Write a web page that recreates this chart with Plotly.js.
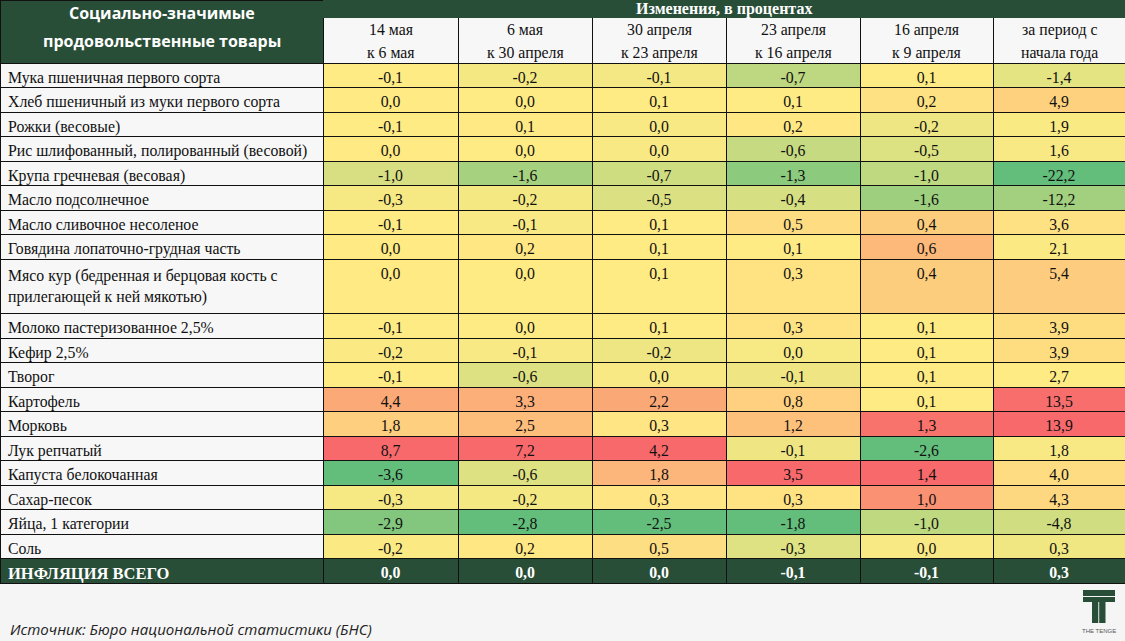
<!DOCTYPE html>
<html><head><meta charset="utf-8">
<script src="https://cdn.plot.ly/plotly-3.0.1.min.js"></script>
<style>html,body{margin:0;padding:0;background:#f5f5f5;}</style>
</head><body>
<div id="chart" style="width:1125px;height:641px;"></div>
<script>
const items = ["Мука пшеничная первого сорта", "Хлеб пшеничный из муки первого сорта", "Рожки (весовые)", "Рис шлифованный, полированный (весовой)", "Крупа гречневая (весовая)", "Масло подсолнечное", "Масло сливочное несоленое", "Говядина лопаточно-грудная часть", "Мясо кур (бедренная и берцовая кость с<br>прилегающей к ней мякотью)", "Молоко пастеризованное 2,5%", "Кефир 2,5%", "Творог", "Картофель", "Морковь", "Лук репчатый", "Капуста белокочанная", "Сахар-песок", "Яйца, 1 категории", "Соль"];
const totalLabel = "ИНФЛЯЦИЯ ВСЕГО";
const groupTitle = ["Социально-значимые", "продовольственные товары"];
const changesTitle = "Изменения, в процентах";
const periods = [["14 мая", "к 6 мая"], ["6 мая", "к 30 апреля"], ["30 апреля", "к 23 апреля"], ["23 апреля", "к 16 апреля"], ["16 апреля", "к 9 апреля"], ["за период с", "начала года"]];
const may14 = [-0.1, 0.0, -0.1, 0.0, -1.0, -0.3, -0.1, 0.0, 0.0, -0.1, -0.2, -0.1, 4.4, 1.8, 8.7, -3.6, -0.3, -2.9, -0.2];
const may6 = [-0.2, 0.0, 0.1, 0.0, -1.6, -0.2, -0.1, 0.2, 0.0, 0.0, -0.1, -0.6, 3.3, 2.5, 7.2, -0.6, -0.2, -2.8, 0.2];
const apr30 = [-0.1, 0.1, 0.0, 0.0, -0.7, -0.5, 0.1, 0.1, 0.1, 0.1, -0.2, 0.0, 2.2, 0.3, 4.2, 1.8, 0.3, -2.5, 0.5];
const apr23 = [-0.7, 0.1, 0.2, -0.6, -1.3, -0.4, 0.5, 0.1, 0.3, 0.3, 0.0, -0.1, 0.8, 1.2, -0.1, 3.5, 0.3, -1.8, -0.3];
const apr16 = [0.1, 0.2, -0.2, -0.5, -1.0, -1.6, 0.4, 0.6, 0.4, 0.1, 0.1, 0.1, 0.1, 1.3, -2.6, 1.4, 1.0, -1.0, 0.0];
const ytd = [-1.4, 4.9, 1.9, 1.6, -22.2, -12.2, 3.6, 2.1, 5.4, 3.9, 3.9, 2.7, 13.5, 13.9, 1.8, 4.0, 4.3, -4.8, 0.3];
const totals = [0.0, 0.0, 0.0, -0.1, -0.1, 0.3];
const series = [may14, may6, apr30, apr23, apr16, ytd];
const source = "Источник: Бюро национальной статистики (БНС)";

const GREEN = [99,190,123], YELLOW = [255,235,132], RED = [248,105,107];
const DARK = '#284e37', LIGHT = '#f7f7f7';
function mix(a,b,t){return 'rgb('+a.map((v,i)=>Math.round(v+(b[i]-v)*t)).join(',')+')';}
function median(arr){const s=[...arr].sort((a,b)=>a-b);const n=s.length;const p=(n-1)*0.5;const lo=Math.floor(p);return s[lo]+(s[Math.ceil(p)]-s[lo])*(p-lo);}
function colorsFor(arr){
  const mn=Math.min(...arr), mx=Math.max(...arr), md=median(arr);
  return arr.map(v=> v<=md ? mix(GREEN,YELLOW,(md===mn?1:(v-mn)/(md-mn))) : mix(YELLOW,RED,(v-md)/(mx-md)));
}
const fmt = v => v.toFixed(1).replace('.',',').replace('-0,0','0,0');

const BODY = 15.8, TOT = 16.5;
const colValues = [items.concat([totalLabel])];
const colFills = [items.map(()=>LIGHT).concat([DARK])];
const colFontColors = [items.map(()=>'#111').concat(['#ffffff'])];
const colWeights = [items.map(()=>'normal').concat(['bold'])];
const colSizes = [items.map(()=>BODY).concat([TOT])];
series.forEach((s,i)=>{
  colValues.push(s.map(fmt).concat([fmt(totals[i])]));
  colFills.push(colorsFor(s).concat([DARK]));
  colFontColors.push(s.map(()=>'#111').concat(['#ffffff']));
  colWeights.push(s.map(()=>'normal').concat(['bold']));
  colSizes.push(s.map(()=>BODY).concat([BODY]));
});

const H = 641, W = 1125;
const colW = [323,135,134,134,134,133,132];
const sumW = colW.reduce((a,b)=>a+b,0);
const edges = [0]; colW.forEach(w=>edges.push(edges[edges.length-1]+w/sumW));
const leftFrac = edges[1];

const mainTable = {
  type:'table',
  domain:{x:[0,1], y:[1-600/H, 1]},
  columnwidth:colW,
  header:{
    values:colW.map(()=>''),
    height:63,
    fill:{color:[DARK].concat(periods.map(()=>LIGHT))},
    font:{family:'Liberation Serif', size:BODY, color:'#111'},
    line:{color:'#111', width:1}
  },
  cells:{
    values:colValues,
    align:['left','center','center','center','center','center','center'],
    height:24.5,
    fill:{color:colFills},
    font:{family:'Liberation Serif', size:colSizes, color:colFontColors, weight:colWeights},
    line:{color:'#111', width:1}
  }
};
const topStrip = {
  type:'table',
  domain:{x:[leftFrac,1], y:[1-18/H, 1]},
  columnwidth:[1],
  header:{values:[''], height:18, fill:{color:DARK}, line:{color:DARK, width:1}},
  cells:{values:[]}
};

const annotations = [];
groupTitle.forEach((t,i)=>annotations.push({text:t, xref:'paper', yref:'paper', x:leftFrac/2, y:1-[13,41][i]/H, xanchor:'center', yanchor:'middle', showarrow:false, font:{family:'Open Sans', size:16, weight:'bold', color:'#ffffff'}}));
annotations.push({text:changesTitle, xref:'paper', yref:'paper', x:(leftFrac+1)/2, y:1-9/H, xanchor:'center', yanchor:'middle', showarrow:false, font:{family:'Liberation Serif', size:16, weight:'bold', color:'#ffffff'}});
periods.forEach((p,j)=>{
  const cx = (edges[j+1]+edges[j+2])/2;
  p.forEach((t,i)=>annotations.push({text:t, xref:'paper', yref:'paper', x:cx, y:1-[30,53][i]/H, xanchor:'center', yanchor:'middle', showarrow:false, font:{family:'Liberation Serif', size:BODY, color:'#111'}}));
});
annotations.push({text:source, xref:'paper', yref:'paper', x:8/W, y:1-629/H, xanchor:'left', yanchor:'middle', showarrow:false, font:{family:'Open Sans', size:15, style:'italic', color:'#222'}});
annotations.push({text:'THE TENGE', xref:'paper', yref:'paper', x:1099/W, y:1-631/H, xanchor:'center', yanchor:'middle', showarrow:false, font:{family:'Liberation Sans', size:6, color:'#555'}});

const layout = {
  width:W, height:H,
  margin:{l:0,r:0,t:0,b:0},
  paper_bgcolor:'#f5f5f5',
  shapes:[
    {type:'rect', xref:'paper', yref:'paper', x0:1083/W, x1:1115/W, y0:1-590/H, y1:1-596/H, fillcolor:DARK, line:{width:0}},
    {type:'rect', xref:'paper', yref:'paper', x0:1083/W, x1:1115/W, y0:1-597/H, y1:1-602/H, fillcolor:DARK, line:{width:0}},
    {type:'rect', xref:'paper', yref:'paper', x0:1092/W, x1:1098.3/W, y0:1-602/H, y1:1-623/H, fillcolor:DARK, line:{width:0}},
    {type:'rect', xref:'paper', yref:'paper', x0:1099.2/W, x1:1105.5/W, y0:1-602/H, y1:1-623/H, fillcolor:DARK, line:{width:0}}
  ],
  annotations:annotations
};
Plotly.newPlot('chart', [mainTable, topStrip], layout, {displayModeBar:false, staticPlot:true});
</script>
</body></html>
